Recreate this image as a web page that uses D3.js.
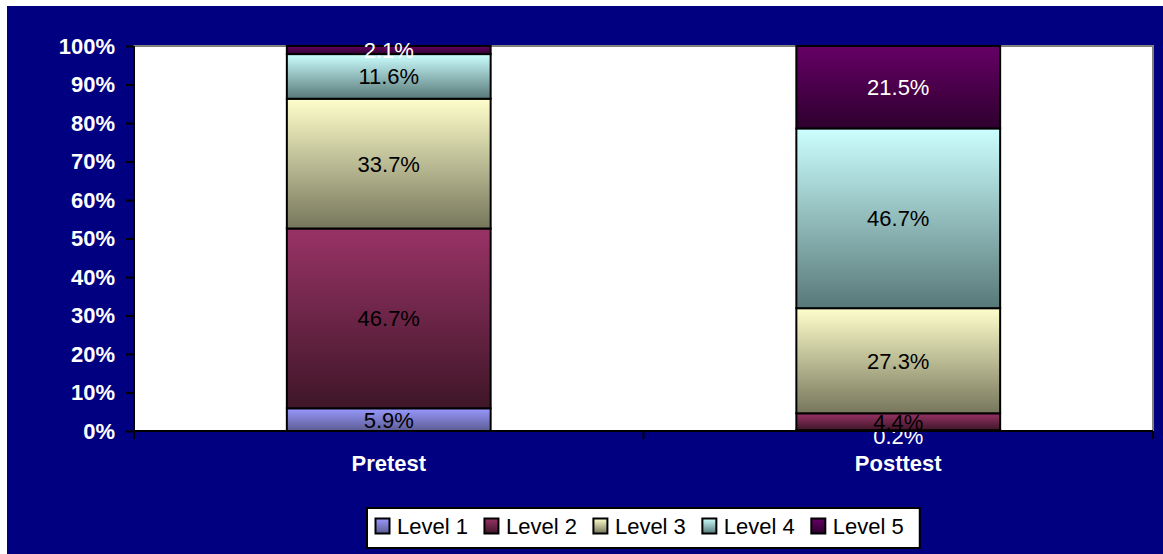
<!DOCTYPE html>
<meta charset="utf-8">
<script src="https://d3js.org/d3.v7.min.js"></script>
<style>
body { margin: 0; background: #fff; }
text { font-family: Arial, "Liberation Sans", sans-serif; }
</style>
<body>
<div id="chart"></div>
<script>

// data
var categories = ["Pretest", "Posttest"]
var levels = ["Level 1", "Level 2", "Level 3", "Level 4", "Level 5"]
var pretest  = [5.9, 46.7, 33.7, 11.6, 2.1]
var posttest = [0.2, 4.4, 27.3, 46.7, 21.5]
var yTicks = [0, 10, 20, 30, 40, 50, 60, 70, 80, 90, 100]

// gradient top / bottom colours for each level
var topColors    = ["#9999ff", "#993366", "#ffffcc", "#ccffff", "#660066"]
var bottomColors = ["#5c5c94", "#3e1628", "#76765c", "#587878", "#2e002e"]

var W = 1163, H = 554
var margin = {top: 46, right: 10, bottom: 123, left: 134}
var width = 1153 - margin.left,
    height = 431 - margin.top
var fontFam = "Arial, 'Liberation Sans', sans-serif"

var svg = d3.select("#chart").append("svg")
    .attr("width", W).attr("height", H)

// gradients
var defs = svg.append("defs")
levels.forEach(function(l, i) {
  var g = defs.append("linearGradient")
    .attr("id", "grad" + i)
    .attr("x1", 0).attr("y1", 0).attr("x2", 0).attr("y2", 1)
  g.append("stop").attr("offset", "0%").attr("stop-color", topColors[i])
  g.append("stop").attr("offset", "100%").attr("stop-color", bottomColors[i])
})

// navy chart area
svg.append("rect")
  .attr("x", 7).attr("y", 6).attr("width", W - 7).attr("height", H - 6)
  .attr("fill", "#000080")

var g = svg.append("g")
  .attr("transform", "translate(" + margin.left + "," + margin.top + ")")

// plot area
g.append("rect")
  .attr("width", width).attr("height", height)
  .attr("fill", "#fff")
  .attr("stroke", "#808080").attr("stroke-width", 2)

var x = d3.scaleBand()
  .domain(categories)
  .range([0, width])
  .paddingInner(0.6)
  .paddingOuter(0.3)

var y = d3.scaleLinear()
  .domain([0, 100])
  .range([height, 0])

// build table for the stack
var table = categories.map(function(c, ci) {
  var row = {cat: c}
  var vals = ci == 0 ? pretest : posttest
  levels.forEach(function(l, i) { row[l] = vals[i] })
  return row
})
var series = d3.stack().keys(levels)(table)

// bars
var layer = g.selectAll(".layer")
  .data(series)
  .enter().append("g")
    .attr("class", "layer")

layer.selectAll("rect")
  .data(function(d, i) { return d.map(function(p) { return {p: p, i: i} }) })
  .enter().append("rect")
    .attr("x", function(d) { return x(d.p.data.cat) })
    .attr("y", function(d) { return y(Math.min(d.p[1], 100)) })
    .attr("width", x.bandwidth())
    .attr("height", function(d) { return y(d.p[0]) - y(Math.min(d.p[1], 100)) })
    .attr("fill", function(d) { return "url(#grad" + d.i + ")" })
    .attr("stroke", "#000").attr("stroke-width", 2)

// data labels
layer.selectAll("text")
  .data(function(d, i) { return d.map(function(p) { return {p: p, i: i} }) })
  .enter().append("text")
    .attr("x", function(d) { return x(d.p.data.cat) + x.bandwidth() / 2 })
    .attr("y", function(d) {
      var c = y((d.p[0] + Math.min(d.p[1], 100)) / 2)
      if (d.p[1] - d.p[0] < 1) c += 5
      return c
    })
    .attr("dy", "0.36em")
    .attr("text-anchor", "middle")
    .style("font-size", "22px")
    .attr("fill", function(d) {
      return (d.i == 4 || d.p[1] - d.p[0] < 1) ? "#fff" : "#000"
    })
    .text(function(d) { return (d.p[1] - d.p[0]).toFixed(1) + "%" })

// y axis
var yAxis = g.append("g")
  .call(d3.axisLeft(y).tickValues(yTicks).tickSize(8).tickPadding(11)
    .tickFormat(function(d) { return d + "%" }))
yAxis.select(".domain").attr("stroke", "#000").attr("stroke-width", 2)
  .attr("d", "M0," + (height + 8) + "V0")
yAxis.selectAll("line").attr("stroke", "#000").attr("stroke-width", 2)
yAxis.selectAll("text")
  .attr("fill", "#fff").style("font-size", "22px").style("font-weight", "bold")
  .style("font-family", fontFam)

// x axis
var xAxis = g.append("g")
  .attr("transform", "translate(0," + height + ")")
  .call(d3.axisBottom(x).tickSize(0).tickPadding(24))
xAxis.select(".domain").attr("stroke", "#000").attr("stroke-width", 2)
  .attr("d", "M0,0H" + width)
xAxis.selectAll("text")
  .attr("fill", "#fff").style("font-size", "22px").style("font-weight", "bold")
  .style("font-family", fontFam)
// category boundary ticks
var bounds = d3.range(categories.length + 1).map(function(i) { return i * width / categories.length })
xAxis.selectAll(".bound")
  .data(bounds)
  .enter().append("line")
    .attr("x1", function(d) { return d }).attr("x2", function(d) { return d })
    .attr("y1", 0).attr("y2", 8)
    .attr("stroke", "#000").attr("stroke-width", 2)

// legend
var legend = svg.append("g").attr("transform", "translate(367,508)")
var legBox = legend.append("rect")
  .attr("width", 552).attr("height", 40)
  .attr("fill", "#fff").attr("stroke", "#000").attr("stroke-width", 2)

var lx = 8
levels.forEach(function(l, i) {
  var item = legend.append("g").attr("transform", "translate(" + lx + ",0)")
  item.append("rect")
    .attr("x", 0.5).attr("y", 10.5).attr("width", 14).attr("height", 15)
    .attr("fill", "url(#grad" + i + ")")
    .attr("stroke", "#000").attr("stroke-width", 2)
  var t = item.append("text")
    .attr("x", 22).attr("y", 26)
    .style("font-size", "22px")
    .attr("fill", "#000")
    .text(l)
  lx += 22 + t.node().getComputedTextLength() + 16
})
legBox.attr("width", lx)

</script>
</body>
